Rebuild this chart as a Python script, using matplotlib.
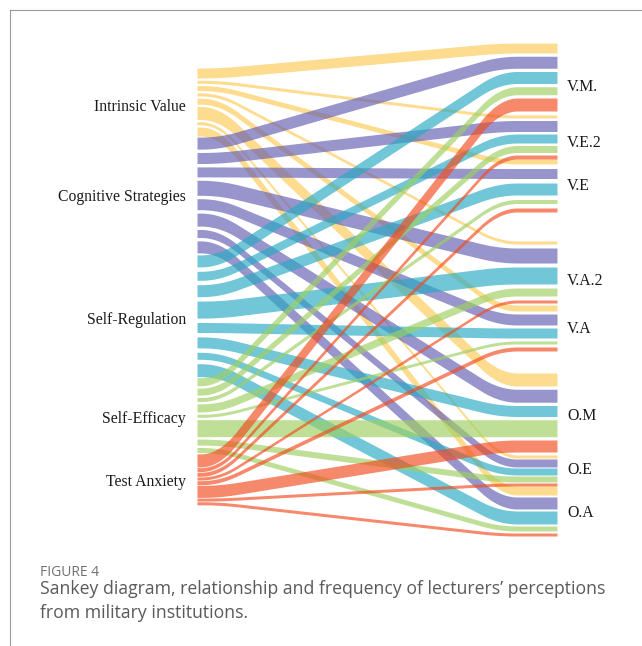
import matplotlib.pyplot as plt
import matplotlib as mpl
import numpy as np

# source nodes (left) and target nodes (right)
sources = ['Intrinsic Value', 'Cognitive Strategies', 'Self-Regulation', 'Self-Efficacy', 'Test Anxiety']
targets = ['V.M.', 'V.E.2', 'V.E', 'V.A.2', 'V.A', 'O.M', 'O.E', 'O.A']

# flow frequency, one list per source, in target order
flow_intrinsic = [10, 3, 5, 3, 6, 13, 3, 9]
flow_cognitive = [12, 11, 10, 15, 11, 13, 8, 12]
flow_selfreg = [12, 9, 12, 17, 10, 11, 7, 13]
flow_selfeff = [8, 7, 4, 8, 3, 17, 6, 5]
flow_anxiety = [13, 4, 4, 3, 4, 12, 3, 3]

caption_head = 'FIGURE 4'
caption_text = ('Sankey diagram, relationship and frequency of lecturers\u2019 perceptions\n'
                'from military institutions.')

# layout (pixels)
x_left = 197
x_right = 557
scale = 1.0
left_top = 68
left_node_gap = [0, 1, 2, 1, 1.4]
left_pad = [2.3, 3.4, 4.4, 2.4, 0.7]
left_label_shift = [3, 0, 2, 2, 1]
right_top = 43
right_node_gap = [0, 4, 0, 29, 2, 22, 3, 0]
right_pad = [3.25, 2.5, 4.5, 4, 3, 3.25, 1, 2]
right_label_shift = [8, 4, -2, 7, -1, 1, -3, 0]
flat_left = 22
flat_right = 58
smooth_w = 36

colors = ['#fdc955', '#635db2', '#28aac3', '#9ecf62', '#f24b1e']
alpha = 0.66


def ribbon(y0, y1):
    # flat - straight - flat path with rounded corners
    x = np.arange(x_left, x_right + 1, 1.0)
    xa = x_left + flat_left
    xb = x_right - flat_right
    base = np.clip((x - xa)/(xb - xa), 0, 1)
    half = smooth_w//2
    padded = np.pad(base, half, mode='edge')
    b = np.convolve(padded, np.ones(2*half + 1)/(2*half + 1), mode='valid')
    return x, y0 + (y1 - y0)*b


def layout(flows):
    n_s, n_t = flows.shape
    left = np.zeros((n_s, n_t))
    y = left_top
    centers_l = []
    for i in range(n_s):
        y += left_node_gap[i]
        y_start = y
        for j in range(n_t):
            left[i, j] = y
            y += flows[i, j]*scale + (left_pad[i] if j < n_t-1 else 0)
        centers_l.append((y_start + y)/2)
    right = np.zeros((n_s, n_t))
    y = right_top
    centers_r = []
    for j in range(n_t):
        y += right_node_gap[j]
        y_start = y
        for i in range(n_s):
            right[i, j] = y
            y += flows[i, j]*scale + (right_pad[j] if i < n_s-1 else 0)
        centers_r.append((y_start + y)/2)
    return left, right, centers_l, centers_r


def fig_sankey(ax):
    flows = np.array([flow_intrinsic, flow_cognitive, flow_selfreg, flow_selfeff, flow_anxiety], dtype=float)
    left, right, centers_l, centers_r = layout(flows)
    for i in range(flows.shape[0]):
        for j in range(flows.shape[1]):
            w = flows[i, j]*scale
            x, top = ribbon(left[i, j], right[i, j])
            _, bot = ribbon(left[i, j]+w, right[i, j]+w)
            ax.fill_between(x, top, bot, color=colors[i], alpha=alpha, lw=0)
    for name, yc, dy in zip(sources, centers_l, left_label_shift):
        ax.text(186, yc + dy, name, ha='right', va='center_baseline', fontsize=11.3,
                family='Liberation Serif', color='#1a1a1a')
    for name, yc, dy in zip(targets, centers_r, right_label_shift):
        ax.text(567, yc + dy, name, ha='left', va='center_baseline', fontsize=11.3,
                family='Liberation Serif', color='#1a1a1a')

    ax.text(40, 572, caption_head, ha='left', va='center', fontsize=10,
            family='Open Sans', color='#707070')
    ax.text(40, 601, caption_text, ha='left', va='center', fontsize=12.7,
            family='Open Sans', color='#5a5a5a', linespacing=1.42)

    ax.plot([10, 10], [10, 646], color='#9a9a9a', lw=0.8)
    ax.plot([10, 642], [10, 10], color='#9a9a9a', lw=0.8)


def main():
    mpl.rcParams['figure.dpi'] = 100
    fig = plt.figure(figsize=(6.42, 6.46))
    ax = fig.add_axes([0, 0, 1, 1])
    ax.set_xlim(0, 642)
    ax.set_ylim(646, 0)
    ax.axis('off')
    fig_sankey(ax)
    fig.savefig('out.png', dpi=100, facecolor='white')


main()
